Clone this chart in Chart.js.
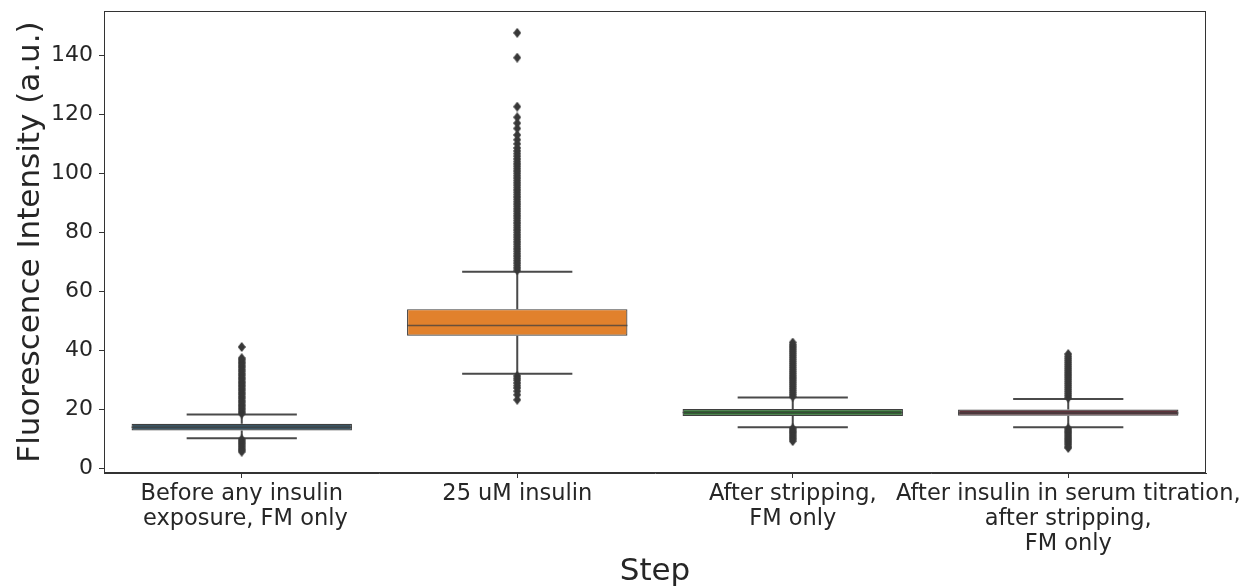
<!DOCTYPE html>
<html>
<head>
<meta charset="utf-8">
<script src="https://cdn.jsdelivr.net/npm/chart.js@4/dist/chart.umd.min.js"></script>
<style>
  html, body { margin: 0; padding: 0; background: #ffffff; }
  #wrap { width: 1243px; height: 586px; position: relative; }
</style>
</head>
<body>
<div id="wrap"><canvas id="c" width="1243" height="586"></canvas></div>
<script>
// ---------- data ----------
const categories = [
  "Before any insulin exposure, FM only",
  "25 uM insulin",
  "After stripping, FM only",
  "After insulin in serum titration, after stripping, FM only"
];
const tickLabels = [
  ["Before any insulin", " exposure, FM only"],
  ["25 uM insulin"],
  ["After stripping,", "FM only"],
  ["After insulin in serum titration,", "after stripping,", "FM only"]
];
const q1Values      = [12.9, 45.0, 17.8, 17.9];
const medianValues  = [14.0, 48.5, 19.0, 18.8];
const q3Values      = [15.2, 54.0, 20.2, 20.0];
const lowerWhiskers = [10.3, 32.1, 14.0, 14.0];
const upperWhiskers = [18.3, 66.7, 24.1, 23.6];

const outliersBefore = [
  18.6, 19.2, 19.9, 20.5, 21.2, 21.8, 22.5, 23.1, 23.8, 24.4, 25.1, 25.7, 26.4,
  27.0, 27.7, 28.3, 29.0, 29.6, 30.3, 30.9, 31.6, 32.2, 32.9, 33.5, 34.2, 34.8,
  35.5, 36.1, 36.8, 37.4, 41.2,
  9.9, 9.3, 8.7, 8.1, 7.5, 6.9, 6.3, 5.7
];
const outliersInsulin = [
  67.2, 68.0, 68.8, 69.6, 70.4, 71.2, 72.0, 72.8, 73.6, 74.4, 75.2, 76.0, 76.8,
  77.6, 78.4, 79.2, 80.0, 80.8, 81.6, 82.4, 83.2, 84.0, 84.8, 85.6, 86.4, 87.2,
  88.0, 88.8, 89.6, 90.4, 91.2, 92.0, 92.8, 93.6, 94.4, 95.2, 96.0, 96.8, 97.6,
  98.4, 99.2, 100.0, 100.8, 101.6, 102.4, 103.2, 104.0, 104.9, 105.8, 106.7,
  107.6, 108.6, 110.0, 111.4, 113.0, 115.2, 117.0, 119.0, 122.6, 139.2, 147.6,
  31.4, 30.6, 29.9, 29.0, 28.1, 27.3, 26.2, 25.0, 23.3
];
const outliersStripped = [
  24.4, 25.1, 25.8, 26.5, 27.2, 27.9, 28.6, 29.3, 30.0, 30.7, 31.4, 32.1, 32.8,
  33.5, 34.2, 34.9, 35.6, 36.3, 37.0, 37.7, 38.4, 39.1, 39.8, 40.5, 41.2, 41.9, 42.7,
  13.6, 13.0, 12.4, 11.8, 11.2, 10.6, 10.0, 9.3
];
const outliersTitration = [
  24.0, 24.7, 25.4, 26.1, 26.8, 27.5, 28.2, 28.9, 29.6, 30.3, 31.0, 31.7, 32.4,
  33.1, 33.8, 34.5, 35.2, 35.9, 36.6, 37.3, 38.0, 38.8,
  13.6, 13.0, 12.4, 11.8, 11.2, 10.6, 10.0, 9.4, 8.8, 8.2, 7.5, 7.0
];
const yTicks = [0, 20, 40, 60, 80, 100, 120, 140];
const yMin = -1.5, yMax = 155;

// ---------- styles ----------
const boxColors = ["#3b5564", "#e1812c", "#2e6d2f", "#5f333b"];
const lineGray = "#3f3f3f";
const textColor = "#262626";
const FONT = "'DejaVu Sans', 'Liberation Sans', sans-serif";

// thin diamond marker like matplotlib's 'd'
function makeDiamond() {
  const w = 8, h = 10;
  const cv = document.createElement('canvas');
  cv.width = w; cv.height = h;
  const g = cv.getContext('2d');
  g.fillStyle = "#383838";
  g.beginPath();
  g.moveTo(w / 2, 0); g.lineTo(w, h / 2); g.lineTo(w / 2, h); g.lineTo(0, h / 2);
  g.closePath(); g.fill();
  return cv;
}
const diamond = makeDiamond();

const outlierSets = [outliersBefore, outliersInsulin, outliersStripped, outliersTitration];
const outlierPoints = [];
outlierSets.forEach((arr, i) => arr.forEach(v => outlierPoints.push({ x: categories[i], y: v })));

// medians, whiskers and caps drawn through the chart's scales
const boxExtras = {
  id: 'boxExtras',
  afterDatasetDraw(chart, args) {
    if (args.index !== 0) return;
    const { ctx, scales: { x, y } } = chart;
    const meta = chart.getDatasetMeta(0);
    ctx.save();
    ctx.lineCap = 'butt';
    categories.forEach((c, i) => {
      const bar = meta.data[i];
      const half = bar.width / 2;
      const cx = x.getPixelForValue(i);
      ctx.strokeStyle = "#4a4a4a";
      ctx.lineWidth = 2;
      ctx.beginPath();
      ctx.moveTo(cx, y.getPixelForValue(q3Values[i]));
      ctx.lineTo(cx, y.getPixelForValue(upperWhiskers[i]));
      ctx.moveTo(cx, y.getPixelForValue(q1Values[i]));
      ctx.lineTo(cx, y.getPixelForValue(lowerWhiskers[i]));
      ctx.stroke();
      ctx.beginPath();
      ctx.moveTo(cx - half / 2, y.getPixelForValue(upperWhiskers[i]));
      ctx.lineTo(cx + half / 2, y.getPixelForValue(upperWhiskers[i]));
      ctx.moveTo(cx - half / 2, y.getPixelForValue(lowerWhiskers[i]));
      ctx.lineTo(cx + half / 2, y.getPixelForValue(lowerWhiskers[i]));
      ctx.stroke();
      ctx.strokeStyle = lineGray;
      ctx.globalAlpha = 0.75;
      ctx.lineWidth = 1.5;
      ctx.beginPath();
      ctx.moveTo(cx - half, y.getPixelForValue(medianValues[i]));
      ctx.lineTo(cx + half, y.getPixelForValue(medianValues[i]));
      ctx.stroke();
      ctx.globalAlpha = 1;
    });
    ctx.restore();
  }
};

// full frame around the plotting area
const frame = {
  id: 'frame',
  afterDraw(chart) {
    const { ctx, chartArea: a } = chart;
    ctx.save();
    ctx.strokeStyle = '#333333';
    ctx.lineWidth = 1;
    ctx.strokeRect(Math.round(a.left) + 0.5, Math.round(a.top) + 0.5,
                   Math.round(a.right - a.left) - 1, Math.round(a.bottom - a.top) - 1);
    ctx.restore();
  }
};

function zeroPad(s) { s.paddingTop = 0; s.paddingBottom = 0; s.paddingLeft = 0; s.paddingRight = 0; }

new Chart(document.getElementById('c'), {
  data: {
    labels: categories,
    datasets: [
      {
        type: 'bar',
        label: 'IQR',
        data: categories.map((c, i) => [q1Values[i], q3Values[i]]),
        backgroundColor: boxColors,
        borderColor: lineGray,
        borderWidth: 1.2,
        borderSkipped: false,
        barPercentage: 0.8,
        categoryPercentage: 1.0,
        order: 2
      },
      {
        type: 'scatter',
        label: 'outliers',
        data: outlierPoints,
        pointStyle: diamond,
        pointRadius: 4,
        backgroundColor: lineGray,
        borderColor: lineGray,
        order: 1
      }
    ]
  },
  options: {
    responsive: false,
    animation: false,
    events: [],
    layout: { padding: { left: 0, right: 37, top: 11, bottom: 0 } },
    plugins: { legend: { display: false }, tooltip: { enabled: false } },
    scales: {
      x: {
        type: 'category',
        offset: true,
        grid: { display: true, drawOnChartArea: false, drawTicks: true, tickLength: 5, color: '#333333', offset: false },
        border: { display: true, color: '#333333', width: 1 },
        ticks: {
          color: textColor,
          font: { family: FONT, size: 22.5, lineHeight: 1.1 },
          padding: 4,
          maxRotation: 0,
          autoSkip: false,
          callback: (v, i) => tickLabels[i]
        },
        title: {
          display: true, text: 'Step', color: textColor,
          font: { family: FONT, size: 31, lineHeight: 0.9 },
          padding: { top: 0, bottom: 0 }
        },
        afterFit: (s) => { s.height = 113; zeroPad(s); }
      },
      y: {
        type: 'linear',
        min: yMin, max: yMax,
        grid: { display: true, drawOnChartArea: false, drawTicks: true, tickLength: 5, color: '#333333' },
        border: { display: true, color: '#333333', width: 1 },
        ticks: { color: textColor, font: { family: FONT, size: 22 }, padding: 6 },
        afterBuildTicks: (s) => { s.ticks = yTicks.map(v => ({ value: v })); },
        title: {
          display: true, text: 'Fluorescence Intensity (a.u.)', color: textColor,
          font: { family: FONT, size: 31, lineHeight: 1 },
          padding: { top: 15, bottom: 0 }
        },
        afterFit: (s) => { s.width = 104; zeroPad(s); }
      }
    }
  },
  plugins: [boxExtras, frame]
});
</script>
</body>
</html>
